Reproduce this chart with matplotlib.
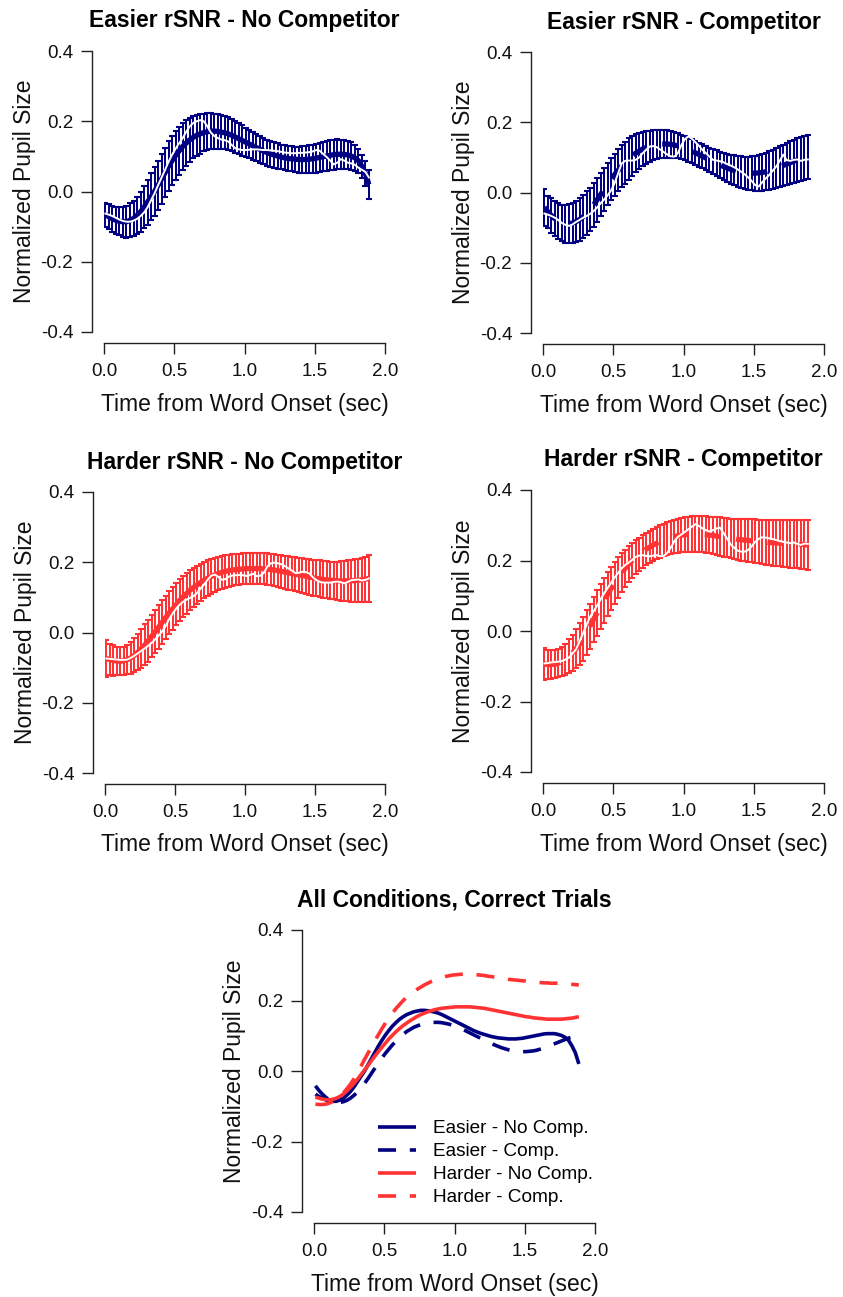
import numpy as np
import matplotlib
matplotlib.use('Agg')
import matplotlib.pyplot as plt
from matplotlib.ticker import FormatStrFormatter, FixedLocator

plt.rcParams['font.family'] = ['Liberation Sans', 'DejaVu Sans']
plt.rcParams['axes.unicode_minus'] = False

# ---------------- data ----------------
# sample times (s) of the pupil trace
time_s = np.round(0.01 + 0.025 * np.arange(76), 3)

# Easier rSNR - No Competitor
easy_nocomp_fit = [-0.066, -0.072, -0.078, -0.082, -0.085, -0.086, -0.086, -0.082, -0.077, -0.068,
                   -0.058, -0.045, -0.030, -0.015, 0.000, 0.018, 0.036, 0.054, 0.072, 0.088,
                   0.103, 0.116, 0.128, 0.138, 0.147, 0.154, 0.160, 0.164, 0.168, 0.170,
                   0.172, 0.172, 0.171, 0.169, 0.167, 0.164, 0.160, 0.155, 0.150, 0.145,
                   0.140, 0.135, 0.130, 0.125, 0.120, 0.115, 0.111, 0.107, 0.104, 0.101,
                   0.098, 0.096, 0.094, 0.093, 0.092, 0.091, 0.091, 0.091, 0.092, 0.093,
                   0.095, 0.097, 0.099, 0.101, 0.103, 0.105, 0.106, 0.106, 0.106, 0.104,
                   0.101, 0.096, 0.088, 0.072, 0.052, 0.020]
easy_nocomp_err = [0.034, 0.035, 0.037, 0.038, 0.040, 0.043, 0.046, 0.048, 0.051, 0.053,
                   0.056, 0.060, 0.064, 0.067, 0.069, 0.070, 0.071, 0.071, 0.071, 0.070,
                   0.070, 0.069, 0.067, 0.065, 0.062, 0.060, 0.058, 0.056, 0.054, 0.053,
                   0.052, 0.050, 0.049, 0.048, 0.047, 0.047, 0.046, 0.045, 0.044, 0.043,
                   0.042, 0.041, 0.040, 0.039, 0.038, 0.038, 0.037, 0.037, 0.036, 0.036,
                   0.035, 0.035, 0.035, 0.036, 0.036, 0.037, 0.038, 0.039, 0.040, 0.040,
                   0.041, 0.041, 0.042, 0.042, 0.043, 0.043, 0.043, 0.042, 0.041, 0.040,
                   0.039, 0.037, 0.034, 0.033, 0.035, 0.040]
easy_nocomp_raw = [-0.063, -0.066, -0.070, -0.075, -0.080, -0.084, -0.086, -0.086, -0.083, -0.078,
                   -0.070, -0.060, -0.045, -0.025, -0.005, 0.018, 0.040, 0.062, 0.085, 0.105,
                   0.122, 0.138, 0.152, 0.170, 0.185, 0.195, 0.200, 0.203, 0.200, 0.186,
                   0.168, 0.158, 0.152, 0.148, 0.146, 0.142, 0.132, 0.123, 0.120, 0.118,
                   0.118, 0.119, 0.120, 0.120, 0.119, 0.118, 0.118, 0.117, 0.116, 0.115,
                   0.113, 0.111, 0.110, 0.109, 0.109, 0.110, 0.110, 0.111, 0.112, 0.114,
                   0.118, 0.116, 0.107, 0.098, 0.088, 0.077, 0.082, 0.092, 0.088, 0.082,
                   0.080, 0.076, 0.068, 0.062, 0.056, 0.040]

# Easier rSNR - Competitor
easy_comp_fit = [-0.042, -0.055, -0.066, -0.075, -0.082, -0.087, -0.089, -0.089, -0.087, -0.083,
                 -0.077, -0.069, -0.059, -0.048, -0.035, -0.021, -0.006, 0.009, 0.024, 0.038,
                 0.051, 0.063, 0.075, 0.085, 0.095, 0.104, 0.112, 0.118, 0.124, 0.128,
                 0.132, 0.135, 0.137, 0.138, 0.138, 0.138, 0.137, 0.135, 0.133, 0.130,
                 0.126, 0.122, 0.118, 0.113, 0.108, 0.103, 0.098, 0.093, 0.088, 0.083,
                 0.078, 0.074, 0.070, 0.066, 0.063, 0.060, 0.058, 0.056, 0.055, 0.055,
                 0.055, 0.056, 0.057, 0.059, 0.062, 0.065, 0.069, 0.073, 0.077, 0.081,
                 0.085, 0.089, 0.093, 0.096, 0.099, 0.102]
easy_comp_err = [0.053, 0.046, 0.049, 0.050, 0.051, 0.052, 0.054, 0.056, 0.057, 0.059,
                 0.060, 0.061, 0.062, 0.062, 0.062, 0.062, 0.061, 0.061, 0.061, 0.060,
                 0.060, 0.060, 0.060, 0.060, 0.059, 0.057, 0.054, 0.051, 0.048, 0.046,
                 0.044, 0.043, 0.042, 0.041, 0.040, 0.039, 0.038, 0.037, 0.036, 0.035,
                 0.034, 0.034, 0.034, 0.034, 0.034, 0.034, 0.035, 0.035, 0.036, 0.037,
                 0.038, 0.039, 0.040, 0.041, 0.043, 0.044, 0.045, 0.046, 0.047, 0.048,
                 0.050, 0.051, 0.052, 0.053, 0.055, 0.056, 0.057, 0.058, 0.059, 0.060,
                 0.061, 0.061, 0.062, 0.062, 0.063, 0.063]
easy_comp_raw = [-0.060, -0.063, -0.067, -0.072, -0.079, -0.087, -0.092, -0.095, -0.091, -0.084,
                 -0.078, -0.072, -0.067, -0.061, -0.053, -0.043, -0.031, -0.020, -0.008, 0.006,
                 0.027, 0.055, 0.083, 0.090, 0.091, 0.091, 0.093, 0.100, 0.112, 0.122,
                 0.131, 0.132, 0.129, 0.122, 0.115, 0.108, 0.103, 0.102, 0.112, 0.135,
                 0.152, 0.160, 0.153, 0.143, 0.133, 0.121, 0.112, 0.102, 0.093, 0.091,
                 0.089, 0.086, 0.081, 0.077, 0.072, 0.066, 0.059, 0.052, 0.043, 0.033,
                 0.021, 0.017, 0.029, 0.040, 0.050, 0.062, 0.074, 0.090, 0.108, 0.092,
                 0.090, 0.093, 0.094, 0.090, 0.093, 0.094]

# Harder rSNR - No Competitor
hard_nocomp_fit = [-0.074, -0.077, -0.080, -0.081, -0.082, -0.080, -0.077, -0.072, -0.065, -0.056,
                   -0.046, -0.035, -0.023, -0.010, 0.003, 0.016, 0.030, 0.043, 0.056, 0.068,
                   0.080, 0.092, 0.102, 0.112, 0.121, 0.129, 0.136, 0.143, 0.149, 0.155,
                   0.160, 0.164, 0.168, 0.171, 0.174, 0.176, 0.178, 0.179, 0.180, 0.181,
                   0.182, 0.182, 0.182, 0.182, 0.182, 0.181, 0.180, 0.179, 0.178, 0.176,
                   0.174, 0.172, 0.170, 0.168, 0.166, 0.164, 0.162, 0.160, 0.158, 0.156,
                   0.154, 0.153, 0.151, 0.150, 0.149, 0.148, 0.147, 0.147, 0.147, 0.147,
                   0.147, 0.148, 0.149, 0.150, 0.152, 0.154]
hard_nocomp_err = [0.052, 0.045, 0.043, 0.041, 0.040, 0.040, 0.042, 0.045, 0.048, 0.051,
                   0.055, 0.058, 0.060, 0.061, 0.062, 0.062, 0.062, 0.062, 0.061, 0.061,
                   0.060, 0.060, 0.059, 0.058, 0.057, 0.055, 0.054, 0.053, 0.052, 0.050,
                   0.049, 0.048, 0.047, 0.047, 0.046, 0.046, 0.045, 0.045, 0.044, 0.044,
                   0.044, 0.044, 0.044, 0.044, 0.044, 0.044, 0.045, 0.045, 0.045, 0.046,
                   0.046, 0.047, 0.048, 0.048, 0.049, 0.049, 0.050, 0.050, 0.050, 0.051,
                   0.051, 0.052, 0.052, 0.053, 0.053, 0.054, 0.055, 0.056, 0.057, 0.058,
                   0.059, 0.060, 0.061, 0.062, 0.064, 0.066]
hard_nocomp_raw = [-0.074, -0.075, -0.076, -0.077, -0.078, -0.078, -0.077, -0.072, -0.066, -0.059,
                   -0.052, -0.045, -0.037, -0.029, -0.019, -0.008, 0.004, 0.020, 0.039, 0.055,
                   0.069, 0.080, 0.088, 0.094, 0.099, 0.104, 0.114, 0.126, 0.138, 0.151,
                   0.162, 0.165, 0.158, 0.150, 0.152, 0.159, 0.162, 0.163, 0.164, 0.163,
                   0.161, 0.164, 0.167, 0.160, 0.162, 0.170, 0.188, 0.197, 0.199, 0.197,
                   0.194, 0.189, 0.183, 0.176, 0.169, 0.170, 0.173, 0.172, 0.168, 0.157,
                   0.149, 0.144, 0.142, 0.142, 0.142, 0.144, 0.145, 0.143, 0.140, 0.144,
                   0.149, 0.150, 0.151, 0.148, 0.150, 0.154]

# Harder rSNR - Competitor
hard_comp_fit = [-0.094, -0.095, -0.095, -0.094, -0.091, -0.086, -0.080, -0.072, -0.062, -0.050,
                 -0.037, -0.022, -0.004, 0.014, 0.033, 0.051, 0.069, 0.087, 0.104, 0.121,
                 0.137, 0.152, 0.165, 0.178, 0.189, 0.200, 0.209, 0.217, 0.225, 0.232,
                 0.238, 0.244, 0.249, 0.254, 0.258, 0.262, 0.265, 0.268, 0.270, 0.272,
                 0.273, 0.274, 0.275, 0.275, 0.275, 0.274, 0.273, 0.272, 0.271, 0.269,
                 0.268, 0.266, 0.265, 0.263, 0.262, 0.260, 0.259, 0.258, 0.257, 0.256,
                 0.255, 0.254, 0.253, 0.252, 0.251, 0.250, 0.250, 0.249, 0.249, 0.249,
                 0.248, 0.248, 0.247, 0.246, 0.245, 0.244]
hard_comp_err = [0.046, 0.042, 0.040, 0.040, 0.040, 0.041, 0.044, 0.048, 0.052, 0.055,
                 0.059, 0.062, 0.063, 0.064, 0.064, 0.064, 0.064, 0.063, 0.062, 0.061,
                 0.059, 0.057, 0.055, 0.053, 0.051, 0.049, 0.048, 0.047, 0.046, 0.046,
                 0.046, 0.046, 0.046, 0.046, 0.046, 0.047, 0.047, 0.048, 0.048, 0.049,
                 0.049, 0.050, 0.050, 0.050, 0.051, 0.051, 0.052, 0.052, 0.053, 0.053,
                 0.054, 0.055, 0.056, 0.056, 0.057, 0.058, 0.059, 0.059, 0.060, 0.061,
                 0.062, 0.062, 0.063, 0.064, 0.065, 0.065, 0.066, 0.066, 0.067, 0.067,
                 0.068, 0.068, 0.069, 0.069, 0.070, 0.071]
hard_comp_raw = [-0.092, -0.091, -0.089, -0.088, -0.087, -0.085, -0.081, -0.075, -0.064, -0.052,
                 -0.030, -0.007, 0.018, 0.040, 0.056, 0.072, 0.090, 0.107, 0.122, 0.137,
                 0.152, 0.165, 0.178, 0.187, 0.194, 0.202, 0.210, 0.214, 0.215, 0.213,
                 0.212, 0.214, 0.215, 0.212, 0.213, 0.222, 0.237, 0.255, 0.267, 0.274,
                 0.281, 0.289, 0.296, 0.303, 0.298, 0.291, 0.286, 0.282, 0.286, 0.291,
                 0.293, 0.278, 0.262, 0.246, 0.236, 0.228, 0.225, 0.225, 0.230, 0.240,
                 0.253, 0.261, 0.266, 0.265, 0.263, 0.261, 0.258, 0.255, 0.253, 0.251,
                 0.249, 0.251, 0.247, 0.244, 0.248, 0.247]

panel_titles = ["Easier rSNR - No Competitor", "Easier rSNR - Competitor",
                "Harder rSNR - No Competitor", "Harder rSNR - Competitor"]
legend_labels = ["Easier - No Comp.", "Easier - Comp.", "Harder - No Comp.", "Harder - Comp."]
summary_title = "All Conditions, Correct Trials"
x_label = "Time from Word Onset (sec)"
y_label = "Normalized Pupil Size"
x_ticks = [0.0, 0.5, 1.0, 1.5, 2.0]
y_ticks = [-0.4, -0.2, 0.0, 0.2, 0.4]

# ---------------- style ----------------
NAVY = '#000080'
RED = '#ff3333'
W, H = 843, 1297
fig = plt.figure(figsize=(W / 100, H / 100), dpi=100)


def make_axes(left, top, width, height):
    return fig.add_axes([left / W, 1 - (top + height) / H, width / W, height / H])


def style_axes(ax, title, width_px, height_px):
    ax.set_xlim(0, 2)
    ax.set_ylim(-0.4, 0.4)
    for s in ('top', 'right'):
        ax.spines[s].set_visible(False)
    ax.spines['left'].set_position(('outward', 8.6))
    ax.spines['bottom'].set_position(('outward', 8.0))
    for s in ('left', 'bottom'):
        ax.spines[s].set_linewidth(1.0)
        ax.spines[s].set_color('#222222')
    ax.xaxis.set_major_locator(FixedLocator(x_ticks))
    ax.yaxis.set_major_locator(FixedLocator(y_ticks))
    ax.xaxis.set_major_formatter(FormatStrFormatter('%.1f'))
    ax.yaxis.set_major_formatter(FormatStrFormatter('%.1f'))
    ax.tick_params(axis='both', direction='out', length=8, width=1.0, color='#222222',
                   labelsize=13.6, labelcolor='#111111')
    ax.tick_params(axis='x', pad=6.0)
    ax.tick_params(axis='y', pad=5.5)
    ax.set_xlabel(x_label, fontsize=16.5, va='center', color='#111111')
    ax.xaxis.set_label_coords(0.5, -72 / height_px)
    ax.set_ylabel(y_label, fontsize=16.5, va='center', color='#111111')
    ax.yaxis.set_label_coords(-79.5 / width_px, 0.5)
    ax.set_title(title, fontsize=16.5, fontweight='bold', y=1 + 30 / height_px,
                 va='center', pad=0)
    ax.patch.set_alpha(0)


panels = [
    ((104, 51, 281, 281), easy_nocomp_fit, easy_nocomp_err, easy_nocomp_raw, NAVY, False),
    ((543, 52, 281, 281), easy_comp_fit, easy_comp_err, easy_comp_raw, NAVY, True),
    ((105, 492, 280, 281), hard_nocomp_fit, hard_nocomp_err, hard_nocomp_raw, RED, False),
    ((543, 490, 281, 282), hard_comp_fit, hard_comp_err, hard_comp_raw, RED, True),
]

for (box, fit, err, raw, col, dashed), title in zip(panels, panel_titles):
    ax = make_axes(*box)
    ax.errorbar(time_s, fit, yerr=err, fmt='none', ecolor=col, elinewidth=1.45,
                capsize=2.1, capthick=1.5, zorder=1)
    line, = ax.plot(time_s, fit, color=col, lw=3.8, zorder=2, solid_capstyle='butt')
    if dashed:
        line.set_dashes([3.0, 3.0])
        line.set_dash_capstyle('butt')
    ax.plot(time_s, raw, color='white', lw=1.4, zorder=3)
    style_axes(ax, title, box[2], box[3])

# summary panel
axb = make_axes(314, 930, 281, 282)
series = [(easy_nocomp_fit, NAVY, False), (easy_comp_fit, NAVY, True),
          (hard_nocomp_fit, RED, False), (hard_comp_fit, RED, True)]
for (fit, col, dashed), lab in zip(series, legend_labels):
    ln, = axb.plot(time_s, fit, color=col, lw=2.6, label=lab, solid_capstyle='butt')
    if dashed:
        ln.set_dashes([5.0, 3.8])
        ln.set_dash_capstyle('butt')
style_axes(axb, summary_title, 281, 282)
axb.legend(loc='upper left', bbox_to_anchor=((378 - 314) / 281, (1212 - 1120) / 282),
           frameon=False, fontsize=13.7, handlelength=2.0, handletextpad=0.9,
           labelspacing=0.3, borderpad=0, borderaxespad=0)

fig.savefig('out.png', dpi=100)
